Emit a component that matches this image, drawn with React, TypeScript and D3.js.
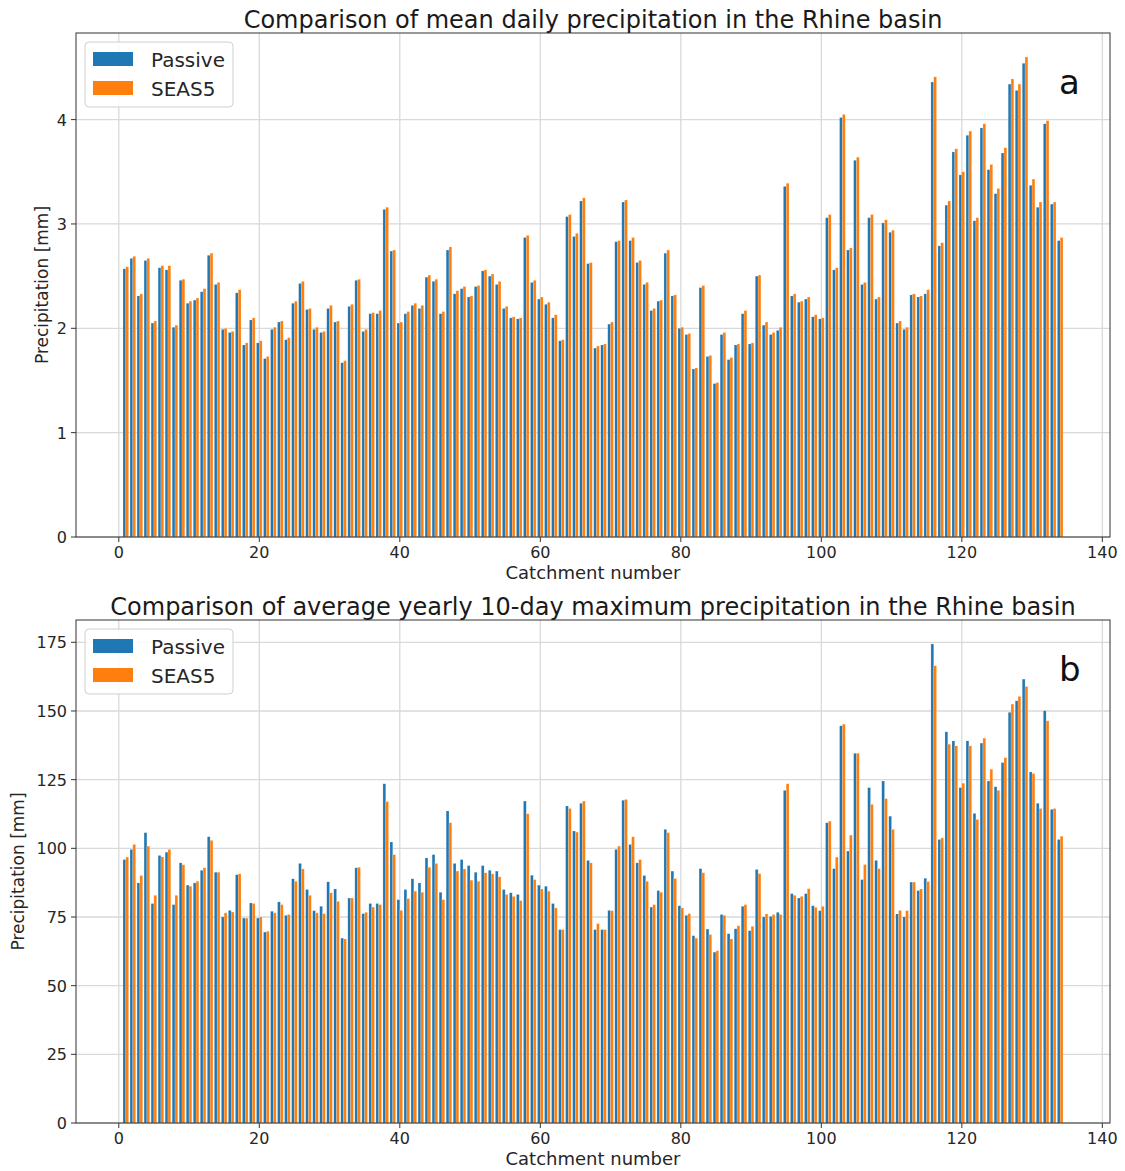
import React from "react";
import * as d3 from "d3";

// Catchment numbers 1..134
const catchments: number[] = d3.range(1, 135);

// Mean daily precipitation [mm]
const meanPassive: number[] = [
  2.57, 2.67, 2.31, 2.65, 2.05, 2.58, 2.56, 2.01, 2.46, 2.24,
  2.27, 2.35, 2.70, 2.42, 1.99, 1.96, 2.34, 1.84, 2.08, 1.86,
  1.71, 1.99, 2.06, 1.89, 2.24, 2.43, 2.18, 1.99, 1.96, 2.19,
  2.06, 1.67, 2.21, 2.46, 1.97, 2.14, 2.14, 3.14, 2.74, 2.05,
  2.14, 2.22, 2.19, 2.49, 2.45, 2.14, 2.75, 2.33, 2.38, 2.30,
  2.40, 2.55, 2.50, 2.42, 2.19, 2.10, 2.09, 2.87, 2.44, 2.28,
  2.23, 2.10, 1.88, 3.07, 2.88, 3.22, 2.62, 1.81, 1.84, 2.04,
  2.83, 3.21, 2.84, 2.63, 2.42, 2.17, 2.26, 2.72, 2.31, 2.00,
  1.94, 1.61, 2.39, 1.73, 1.47, 1.94, 1.70, 1.84, 2.14, 1.85,
  2.50, 2.03, 1.94, 1.98, 3.36, 2.31, 2.25, 2.28, 2.11, 2.09,
  3.06, 2.56, 4.02, 2.75, 3.61, 2.42, 3.06, 2.28, 3.01, 2.92,
  2.05, 1.99, 2.32, 2.30, 2.33, 4.36, 2.79, 3.18, 3.69, 3.47,
  3.85, 3.03, 3.92, 3.52, 3.29, 3.68, 4.34, 4.28, 4.54, 3.37,
  3.16, 3.96, 3.19, 2.84,
];
const meanSeas5: number[] = [
  2.59, 2.69, 2.33, 2.67, 2.07, 2.60, 2.60, 2.03, 2.47, 2.26,
  2.29, 2.38, 2.72, 2.44, 2.00, 1.97, 2.37, 1.86, 2.10, 1.88,
  1.73, 2.01, 2.07, 1.91, 2.26, 2.45, 2.19, 2.01, 1.97, 2.22,
  2.07, 1.69, 2.23, 2.47, 1.99, 2.15, 2.17, 3.16, 2.75, 2.06,
  2.16, 2.24, 2.22, 2.51, 2.47, 2.16, 2.78, 2.36, 2.40, 2.31,
  2.41, 2.56, 2.52, 2.45, 2.21, 2.11, 2.10, 2.89, 2.46, 2.30,
  2.25, 2.13, 1.89, 3.09, 2.91, 3.25, 2.63, 1.83, 1.85, 2.06,
  2.84, 3.23, 2.87, 2.65, 2.44, 2.19, 2.27, 2.75, 2.32, 2.01,
  1.95, 1.62, 2.41, 1.74, 1.48, 1.96, 1.72, 1.85, 2.17, 1.86,
  2.51, 2.06, 1.96, 2.01, 3.39, 2.33, 2.26, 2.30, 2.13, 2.10,
  3.09, 2.58, 4.05, 2.77, 3.64, 2.44, 3.09, 2.30, 3.04, 2.94,
  2.07, 2.01, 2.33, 2.31, 2.37, 4.41, 2.82, 3.22, 3.72, 3.50,
  3.89, 3.06, 3.96, 3.57, 3.34, 3.73, 4.39, 4.34, 4.60, 3.43,
  3.21, 3.99, 3.21, 2.87,
];

// Average yearly 10-day maximum precipitation [mm]
const maxPassive: number[] = [
  95.9, 99.6, 87.4, 105.7, 79.9, 97.4, 98.6, 79.5, 94.7, 86.6,
  87.4, 92.0, 104.2, 91.3, 75.0, 77.4, 90.4, 74.6, 80.1, 74.6,
  69.5, 77.1, 80.5, 75.6, 88.9, 94.5, 85.0, 77.3, 78.9, 87.8,
  85.2, 67.3, 81.9, 92.9, 76.2, 79.9, 79.9, 123.5, 102.3, 81.3,
  85.0, 88.9, 87.4, 96.5, 97.7, 84.0, 113.6, 94.5, 95.9, 93.7,
  91.3, 93.7, 92.0, 91.7, 85.0, 83.8, 83.2, 117.2, 90.2, 86.6,
  86.2, 79.9, 70.4, 115.4, 106.3, 116.4, 95.6, 70.4, 70.4, 77.4,
  99.6, 117.5, 101.4, 94.7, 90.1, 78.6, 84.6, 106.9, 91.7, 79.1,
  75.6, 68.2, 92.6, 70.6, 62.2, 75.9, 68.9, 70.7, 78.9, 70.0,
  92.3, 75.0, 75.2, 76.7, 121.1, 83.5, 81.9, 83.5, 79.1, 77.3,
  109.3, 92.6, 144.6, 99.0, 134.6, 88.6, 122.1, 95.6, 124.5, 111.7,
  76.1, 75.0, 87.7, 84.6, 89.1, 174.4, 103.2, 142.4, 139.1, 122.1,
  139.1, 112.7, 138.3, 124.5, 122.4, 131.2, 149.5, 153.7, 161.6, 127.8,
  116.4, 150.1, 114.2, 103.2,
];
const maxSeas5: number[] = [
  96.8, 101.4, 90.1, 100.8, 82.9, 96.9, 99.6, 82.9, 94.0, 86.2,
  88.0, 92.9, 102.9, 91.3, 76.5, 76.8, 90.7, 74.6, 79.9, 75.0,
  69.8, 76.5, 79.5, 75.9, 88.0, 92.5, 82.9, 76.5, 76.2, 83.8,
  80.7, 67.0, 81.9, 93.1, 76.7, 78.6, 79.5, 117.0, 97.7, 77.4,
  81.7, 84.4, 84.0, 93.1, 94.5, 81.3, 109.3, 91.7, 92.5, 88.4,
  88.0, 91.1, 90.7, 89.6, 83.2, 82.5, 81.0, 112.6, 88.6, 85.2,
  84.4, 78.3, 70.4, 114.5, 105.9, 117.2, 94.7, 72.6, 70.4, 77.3,
  100.8, 117.8, 104.2, 95.9, 88.0, 79.5, 84.0, 105.7, 89.0, 78.3,
  76.2, 67.3, 91.1, 68.6, 62.7, 75.6, 67.0, 71.8, 79.5, 71.6,
  90.8, 76.1, 75.9, 75.9, 123.5, 82.9, 82.5, 85.3, 78.5, 78.9,
  109.9, 96.8, 145.2, 104.8, 134.6, 94.1, 116.0, 92.6, 118.1, 106.9,
  77.4, 77.3, 87.7, 85.2, 87.9, 166.5, 103.8, 137.9, 137.3, 123.7,
  137.3, 110.5, 140.1, 128.8, 121.1, 133.0, 152.5, 155.3, 158.9, 127.2,
  114.5, 146.4, 114.5, 104.4,
];

const xTicks: number[] = [0, 20, 40, 60, 80, 100, 120, 140];
const meanTicks: number[] = [0, 1, 2, 3, 4];
const maxTicks: number[] = [0, 25, 50, 75, 100, 125, 150, 175];
const seriesNames: string[] = ["Passive", "SEAS5"];
const seriesColors: string[] = ["#1f77b4", "#ff7f0e"];

const W = 1125;
const H = 1171;
const FONT = "DejaVu Sans, sans-serif";
const BAR_W = 0.4;

type PanelProps = {
  title: string;
  letter: string;
  passive: number[];
  seas5: number[];
  yTicks: number[];
  top: number;
  bottom: number;
  left: number;
  right: number;
  yLabelX: number;
};

function Panel({ title, letter, passive, seas5, yTicks, top, bottom, left, right, yLabelX }: PanelProps) {
  const xMin = d3.min(catchments)! - BAR_W;
  const xMax = d3.max(catchments)! + BAR_W;
  const pad = (xMax - xMin) * 0.05;
  const x = d3.scaleLinear().domain([xMin - pad, xMax + pad]).range([left, right]);
  const yMax = (d3.max([...passive, ...seas5]) as number) * 1.05;
  const y = d3.scaleLinear().domain([0, yMax]).range([bottom, top]);
  const cx = (left + right) / 2;
  const cy = (top + bottom) / 2;
  const grid = "#d9d9d9";

  return (
    <g>
      {/* grid */}
      {xTicks.map((t) => (
        <line key={"gx" + t} x1={x(t)} x2={x(t)} y1={top} y2={bottom} stroke={grid} strokeWidth={1.3} />
      ))}
      {yTicks.map((t) => (
        <line key={"gy" + t} x1={left} x2={right} y1={y(t)} y2={y(t)} stroke={grid} strokeWidth={1.3} />
      ))}
      {/* bars */}
      {catchments.map((c, i) => (
        <g key={"b" + c}>
          <rect
            x={x(c - BAR_W)}
            width={x(c) - x(c - BAR_W)}
            y={y(passive[i])}
            height={y(0) - y(passive[i])}
            fill={seriesColors[0]}
            stroke="#ffffff"
            strokeOpacity={0.35}
            strokeWidth={0.5}
          />
          <rect
            x={x(c)}
            width={x(c + BAR_W) - x(c)}
            y={y(seas5[i])}
            height={y(0) - y(seas5[i])}
            fill={seriesColors[1]}
            stroke="#ffffff"
            strokeOpacity={0.35}
            strokeWidth={0.5}
          />
        </g>
      ))}
      {/* frame */}
      <rect x={left} y={top} width={right - left} height={bottom - top} fill="none" stroke="#333" strokeWidth={1} />
      {/* x ticks */}
      {xTicks.map((t) => (
        <g key={"tx" + t}>
          <line x1={x(t)} x2={x(t)} y1={bottom} y2={bottom + 5} stroke="#333" strokeWidth={1} />
          <text x={x(t)} y={bottom + 21} textAnchor="middle" fontSize={16} fontFamily={FONT} fill="#262626">
            {t}
          </text>
        </g>
      ))}
      {/* y ticks */}
      {yTicks.map((t) => (
        <g key={"ty" + t}>
          <line x1={left - 5} x2={left} y1={y(t)} y2={y(t)} stroke="#333" strokeWidth={1} />
          <text x={left - 9} y={y(t) + 6} textAnchor="end" fontSize={16} fontFamily={FONT} fill="#262626">
            {t}
          </text>
        </g>
      ))}
      {/* labels */}
      <text x={cx} y={top - 5} textAnchor="middle" fontSize={24} fontFamily={FONT} fill="#1a1a1a">
        {title}
      </text>
      <text x={cx} y={bottom + 42} textAnchor="middle" fontSize={18} fontFamily={FONT} fill="#262626">
        Catchment number
      </text>
      <text
        transform={`translate(${yLabelX},${cy}) rotate(-90)`}
        textAnchor="middle"
        fontSize={17}
        fontFamily={FONT}
        fill="#262626"
      >
        Precipitation [mm]
      </text>
      {/* legend */}
      <rect x={left + 9} y={top + 9} width={148} height={65} rx={4} fill="#fff" fillOpacity={0.85} stroke="#d0d0d0" />
      {seriesNames.map((n, k) => (
        <g key={n}>
          <rect x={left + 17} y={top + 19 + k * 29} width={40} height={14} fill={seriesColors[k]} />
          <text x={left + 75} y={top + 34 + k * 29} fontSize={20} fontFamily={FONT} fill="#262626">
            {n}
          </text>
        </g>
      ))}
      <text x={right - 51} y={top + 61} fontSize={34} fontFamily={FONT} fill="#111">
        {letter}
      </text>
    </g>
  );
}

export default function App() {
  return (
    <svg
      width={W}
      height={H}
      viewBox={`0 0 ${W} ${H}`}
      style={{ position: "absolute", left: 0, top: 0, background: "#fff" }}
    >
      <rect width={W} height={H} fill="#fff" />
      <Panel
        title="Comparison of mean daily precipitation in the Rhine basin"
        letter="a"
        passive={meanPassive}
        seas5={meanSeas5}
        yTicks={meanTicks}
        top={33}
        bottom={537}
        left={76}
        right={1110}
        yLabelX={48}
      />
      <Panel
        title="Comparison of average yearly 10-day maximum precipitation in the Rhine basin"
        letter="b"
        passive={maxPassive}
        seas5={maxSeas5}
        yTicks={maxTicks}
        top={620}
        bottom={1123}
        left={76}
        right={1110}
        yLabelX={24}
      />
    </svg>
  );
}
